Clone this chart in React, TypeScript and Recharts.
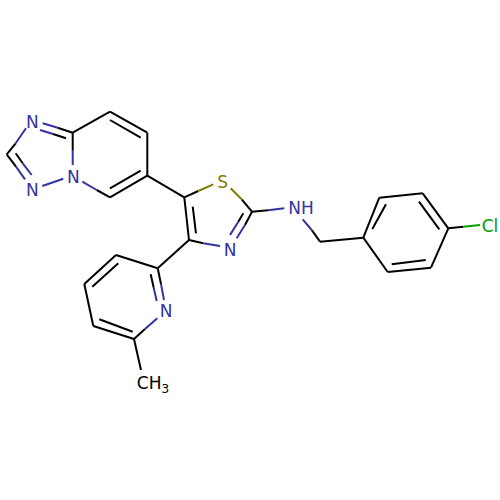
import { ComposedChart, Line, Scatter, XAxis, YAxis } from "recharts";

// every segment is [x1, y1, x2, y2] in the 0-500 axis units of the chart
const carbonBonds = [
  [57.7, 127.7, 72.7, 132.7], [53, 134, 66, 138.3], [15.7, 143.3, 6.7, 154.3], [6.7, 154.3, 16, 166.7],
  [15.7, 153.3, 22.7, 163.3], [72.7, 132.7, 72.7, 150], [96.7, 190, 110, 197.3], [110, 197.3, 147.3, 175.7],
  [110, 188.3, 140.7, 170.7], [147.3, 175.7, 147.3, 132.7], [147.3, 132.7, 110, 111.7],
  [140.7, 137.7, 110, 120], [110, 111.7, 72.7, 132.7], [147.3, 175.7, 184.3, 197.3],
  [184.3, 197.3, 198.3, 191], [241.7, 199.3, 252, 211.7], [184.3, 197.3, 189, 240],
  [192.7, 206.7, 196, 233.3], [189, 240, 203.3, 243.3], [189, 240, 157.7, 268.3],
  [157.7, 268.3, 161, 284], [150.7, 274.3, 153.7, 287.7], [145, 329, 134, 339],
  [134, 339, 93.3, 326], [132.7, 331.7, 99.3, 319.3], [93.3, 326, 84.3, 284],
  [84.3, 284, 116, 255], [92.3, 286.7, 118.3, 263.3], [116, 255, 157.7, 268.3],
  [134, 339, 141, 370], [252, 211.7, 268, 210.3], [311.7, 230, 320, 241.7],
  [320, 241.7, 363.3, 237.7], [363.3, 237.7, 379.3, 197.7], [372.3, 229, 386, 204.3],
  [379.3, 197.7, 422.7, 193.3], [422.7, 193.3, 448.3, 228.3], [419, 201.7, 439.3, 229.3],
  [448.3, 228.3, 431, 267.7], [431, 267.7, 387.7, 272], [425.7, 260, 391.7, 264.3],
  [387.7, 272, 363.3, 237.7], [448.3, 228.3, 463.3, 226.7], [252, 211.7, 245, 225], [243.3, 213.3, 238.3, 221.7],
];
const nitrogenBonds = [
  [42.7, 123.3, 57.7, 127.7], [40, 130, 53, 134], [26, 128.3, 15.7, 143.3], [16, 166.7, 25, 179.3],
  [22.7, 163.3, 31.7, 175], [42.3, 186, 63.3, 178.7], [72.7, 150, 72.7, 165], [82.3, 181.7, 96.7, 190],
  [203.3, 243.3, 220, 246], [161, 284, 164, 300], [153.7, 287.7, 156.7, 301], [157.3, 318.3, 145, 329],
  [268, 210.3, 284.3, 208.3], [302.7, 219.3, 311.7, 230], [245, 225, 236.7, 238.3], [238.3, 221.7, 230, 235],
];
const sulfurBonds = [[198.3, 191, 213.3, 184.3], [230.7, 188.3, 241.7, 199.3]];
const chlorineBonds = [[463.3, 226.7, 480, 225]];

const nitrogenLabels = [
  { x: 32.3, y: 121.7, text: "N" },
  { x: 32.3, y: 190, text: "N" },
  { x: 73.3, y: 177.3, text: "N" },
  { x: 230, y: 250, text: "N" },
  { x: 166, y: 311, text: "N" },
  { x: 301, y: 208, text: "NH" },
];
const sulfurLabels = [{ x: 222.7, y: 181.7, text: "S" }];
const chlorineLabels = [{ x: 490, y: 225.7, text: "Cl" }];
const methylLabels = [{ x: 153, y: 383, text: "CH" }];

const BLACK = "#000000";
const NITROGEN = "#33339f";
const SULFUR = "#7f7f00";
const CHLORINE = "#00a000";

const toPoints = (s: number[]) => [
  { x: s[0], y: s[1] },
  { x: s[2], y: s[3] },
];

function atomShape(color: string, subscript?: string) {
  return (p: any) => (
    <text
      x={p.cx}
      y={p.cy}
      dy={6}
      textAnchor="middle"
      fill={color}
      fontFamily="DejaVu Sans"
      fontSize={17}
    >
      {p.payload?.text ?? p.text}
      {subscript && (
        <tspan dy={4} fontSize={12}>
          {subscript}
        </tspan>
      )}
    </text>
  );
}

const bondGroups: [number[][], string][] = [
  [carbonBonds, BLACK],
  [nitrogenBonds, NITROGEN],
  [sulfurBonds, SULFUR],
  [chlorineBonds, CHLORINE],
];

export default function App() {
  return (
    <div style={{ position: "absolute", left: 0, top: 0, background: "#fff" }}>
      <ComposedChart width={500} height={500} margin={{ top: 0, right: 0, bottom: 0, left: 0 }}>
        <XAxis dataKey="x" type="number" domain={[0, 500]} hide />
        <YAxis dataKey="y" type="number" domain={[0, 500]} reversed hide />
        {bondGroups.flatMap(([segments, color], g) =>
          segments.map((s, i) => (
            <Line
              key={`${g}-${i}`}
              data={toPoints(s)}
              dataKey="y"
              stroke={color}
              strokeWidth={2}
              dot={false}
              activeDot={false}
              legendType="none"
              isAnimationActive={false}
            />
          ))
        )}
        <Scatter data={nitrogenLabels} shape={atomShape(NITROGEN)} isAnimationActive={false} />
        <Scatter data={sulfurLabels} shape={atomShape(SULFUR)} isAnimationActive={false} />
        <Scatter data={chlorineLabels} shape={atomShape(CHLORINE)} isAnimationActive={false} />
        <Scatter data={methylLabels} shape={atomShape(BLACK, "3")} isAnimationActive={false} />
      </ComposedChart>
    </div>
  );
}
